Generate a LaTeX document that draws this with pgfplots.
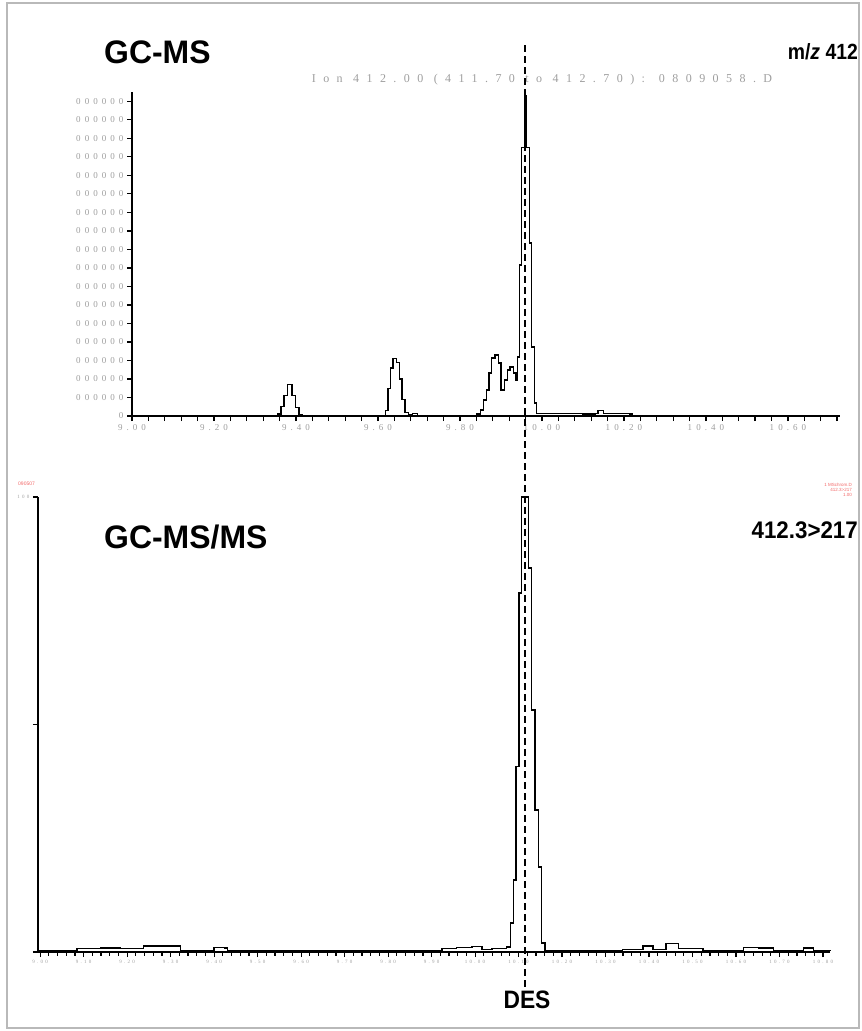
\documentclass[border=0pt]{standalone}
\usepackage{fontspec}
\setmainfont{Liberation Sans}
\newfontfamily\tickf{Liberation Serif}[LetterSpace=45]
\newfontfamily\ionf{Liberation Serif}[LetterSpace=62]
\usepackage{graphicx}
\usepackage{pgfplots}
\pgfplotsset{compat=1.18}
\definecolor{tickgray}{gray}{0.62}
\definecolor{labred}{rgb}{0.95,0.40,0.40}

\begin{document}
\begin{tikzpicture}[x=1pt,y=1pt]
\path (0,0) rectangle (862,-1031);
\draw[gray!55, line width=1.2pt] (7,-3) rectangle (859,-1028);

% ---------- GC-MS (top) ----------
\begin{axis}[at={(132pt,-416pt)}, anchor=south west, scale only axis,
  width=708pt, height=324pt,
  xmin=9, xmax=10.727, ymin=0, ymax=17.5,
  axis x line=bottom, axis y line=left,
  axis line style={-, line width=1.3pt},
  tick align=outside, major tick length=5pt, minor tick length=5pt,
  every tick/.style={black, line width=1.3pt},
  xtick={9,9.2,9.4,9.6,9.8,10,10.2,10.4,10.6},
  xticklabels={9.00,9.20,9.40,9.60,9.80,10.00,10.20,10.40,10.60},
  minor xtick={9.04,9.08,9.12,9.16,9.24,9.28,9.32,9.36,9.44,9.48,9.52,9.56,9.64,9.68,9.72,9.76,9.84,9.88,9.92,9.96,10.04,10.08,10.12,10.16,10.24,10.28,10.32,10.36,10.44,10.48,10.52,10.56,10.64,10.68,10.72},
  ytick={0,1,...,17},
  yticklabels={0,000000,000000,000000,000000,000000,000000,000000,000000,000000,000000,000000,000000,000000,000000,000000,000000,000000},
  ticklabel style={font=\tickf\fontsize{9}{9}\selectfont, text=tickgray},
  clip=false]
\addplot[const plot, black, line width=1.4pt] coordinates {
(9.000,0) (9.337,0) (9.356,0.1) (9.363,0.5) (9.371,1.1) (9.380,1.7) (9.390,1.1) (9.399,0.45) (9.407,0.05) (9.415,0)
(9.612,0) (9.618,0.3) (9.624,1.5) (9.630,2.6) (9.637,3.1) (9.645,2.9) (9.652,2.0) (9.659,0.9) (9.666,0.2) (9.674,0.05) (9.684,0.12) (9.697,0)
(9.8407,0.1) (9.8500,0.32) (9.8568,0.86) (9.8651,1.41) (9.8712,2.32) (9.8773,3.14) (9.8854,3.30) (9.8934,2.86) (9.9000,1.41) (9.9080,1.95) (9.9163,2.49) (9.9220,2.65) (9.9300,2.32) (9.9366,1.95) (9.9407,3.19) (9.9446,8.16) (9.9505,14.49) (9.9568,17.3) (9.9610,14.49) (9.9690,9.35) (9.9749,3.73) (9.9812,0.70) (9.9871,0.12)
(10.05,0.12) (10.10,0.1) (10.13,0.12) (10.137,0.3) (10.150,0.12) (10.215,0.1) (10.22,0) (10.727,0)
};
\end{axis}

% ---------- GC-MS/MS (bottom) ----------
\begin{axis}[at={(38pt,-952pt)}, anchor=south west, scale only axis,
  width=792pt, height=455pt,
  xmin=8.995, xmax=10.816, ymin=0, ymax=100,
  axis x line=bottom, axis y line=left,
  axis line style={-, line width=1.3pt},
  tick align=outside, major tick length=5pt, minor tick length=3.5pt,
  every tick/.style={black, line width=1.2pt},
  xtick={9.0,9.1,9.2,9.3,9.4,9.5,9.6,9.7,9.8,9.9,10.0,10.1,10.2,10.3,10.4,10.5,10.6,10.7,10.8},
  xticklabels={9.00,9.10,9.20,9.30,9.40,9.50,9.60,9.70,9.80,9.90,10.00,10.10,10.20,10.30,10.40,10.50,10.60,10.70,10.80},
  minor x tick num=4,
  ytick={0,50,100}, yticklabels={,,100},
  ticklabel style={font=\tickf\fontsize{5}{5}\selectfont, text=tickgray},
  clip=false]
\addplot[const plot, black, line width=1.3pt] coordinates {
(8.995,0.3) (9.046,0.4) (9.085,0.8) (9.139,0.9) (9.185,0.7) (9.231,0.8) (9.238,1.3) (9.316,1.3) (9.323,0.4)
(9.393,0.3) (9.400,1.0) (9.423,0.9) (9.430,0.3) (9.508,0.2) (9.600,0.4) (9.693,0.2) (9.785,0.3) (9.878,0.2)
(9.924,0.8) (9.958,1.0) (9.993,1.2) (10.016,0.6) (10.039,0.8)
(10.0504,0.8) (10.0727,1.1) (10.0819,6.4) (10.0879,15.8) (10.0941,40.7) (10.1010,78.9) (10.1072,100) (10.1224,84.4) (10.1302,53.2) (10.1378,31.2) (10.1454,18.7) (10.1532,2.0) (10.1608,0.4)
(10.247,0.3) (10.339,0.5) (10.386,1.3) (10.409,0.6) (10.439,1.8) (10.467,0.8) (10.524,0.3) (10.617,1.0) (10.651,0.9) (10.686,0.3) (10.755,0.9) (10.778,0.4) (10.816,0.3)
};
\end{axis}

% ---------- annotations ----------
\draw[black, line width=1.3pt, dash pattern=on 7pt off 4pt] (525,-45) -- (525,-992);

\node[anchor=west, inner sep=0] at (104,-52) {\scalebox{1.03}[1.05]{\fontsize{31}{31}\selectfont\bfseries GC-MS}};
\node[anchor=east, inner sep=0] at (858,-52) {\scalebox{0.88}[1]{\fontsize{22}{22}\selectfont\bfseries m/\textit{z} 412}};
\node[inner sep=0] at (542,-80) {\color{tickgray}\ionf\fontsize{12}{12}\selectfont Ion 412.00 (411.70 to 412.70): 0809058.D};
\node[anchor=west, inner sep=0] at (104,-537) {\scalebox{1.03}[1.05]{\fontsize{31}{31}\selectfont\bfseries GC-MS/MS}};
\node[anchor=east, inner sep=0] at (858,-530) {\scalebox{0.93}[1]{\fontsize{24}{24}\selectfont\bfseries 412.3>217}};
\node[inner sep=0] at (527,-1000) {\scalebox{0.95}[1.05]{\fontsize{24}{24}\selectfont\bfseries DES}};
\node[anchor=west, inner sep=0, text=labred, font=\fontsize{5}{5}\selectfont] at (18,-484) {090507};
\node[anchor=east, inner sep=0, align=right, text=labred, font=\fontsize{4.5}{5}\selectfont] at (852,-490) {1 MSchrom.D\\ 412.3>217\\ 1.00};
\end{tikzpicture}
\end{document}
